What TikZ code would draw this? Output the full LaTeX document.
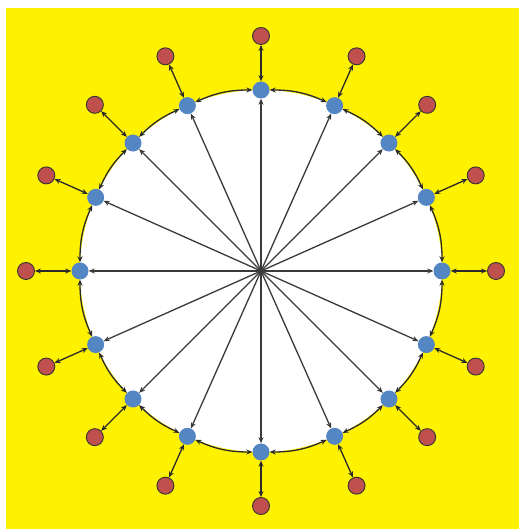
\documentclass[tikz,border=0pt]{standalone}
\usetikzlibrary{arrows.meta,calc}
\definecolor{bgyellow}{HTML}{FFF200}
\definecolor{bluenode}{HTML}{5486C4}
\definecolor{rednode}{HTML}{C0504D}
\definecolor{edgecol}{HTML}{2A2A2A}
\definecolor{spokecol}{HTML}{3A3A3A}
\tikzset{
  bluen/.style={circle,fill=bluenode,inner sep=0pt,minimum size=17pt},
  redn/.style={circle,fill=rednode,draw=black!80,line width=0.9pt,inner sep=0pt,minimum size=17pt},
  spoke/.style={draw=spokecol,line width=1.3pt,-{Stealth[length=6pt,width=5pt]}},
  dedg/.style={draw=edgecol,line width=1.3pt,{Stealth[length=6pt,width=5pt]}-{Stealth[length=6pt,width=5pt]}},
}
\begin{document}
\begin{tikzpicture}[x=1pt,y=1pt]
\useasboundingbox (0,0) rectangle (519,529);
\fill[bgyellow] (6,0) rectangle (519,521);
\coordinate (c) at (261,258);
\fill[white] (c) circle[radius=181];
\foreach \a [count=\k from 0] in {90,114,135,156,180,204,225,246,270,294,315,336,360,384,405,426} {
  \node[bluen] (b\k) at ($(c)+(\a:181)$) {};
  \node[redn] (r\k) at ($(c)+(\a:235)$) {};
}
\foreach \g [count=\k from 0] in {24,21,21,24,24,21,21,24,24,21,21,24,24,21,21,24} {
  \pgfmathtruncatemacro{\n}{mod(\k+1,16)}
  \pgfmathsetmacro{\h}{\g/2}
  \draw[spoke] (c) -- (b\k);
  \draw[dedg] (b\k) -- (r\k);
  \draw[dedg] (b\k) to[bend right=\h] (b\n);
}
\end{tikzpicture}
\end{document}
